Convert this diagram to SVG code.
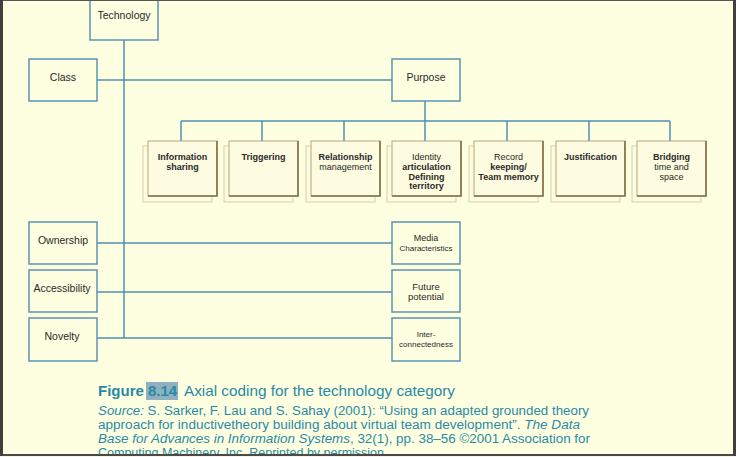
<svg xmlns="http://www.w3.org/2000/svg" width="736" height="457" viewBox="0 0 736 457">
<style>
.bg{fill:#fefee0}
.box{fill:#fefee0;stroke:#5b94b0;stroke-width:1.5}
.conn{stroke:#4f8fb0;stroke-width:1.5;fill:none}
.back{fill:#fdfbe0;stroke:#d9cfa5;stroke-width:1}
.front{fill:#fdfbe0;stroke:#b5a77a;stroke-width:1}
.shade{fill:none;stroke:#7d7048;stroke-width:1.6}
.lbl{font-family:"Liberation Sans",Arial,sans-serif;fill:#2a2a2a;text-anchor:middle}
.n{font-size:10.5px}
.s{font-size:9px}
.b{font-size:9px;font-weight:bold}
.cap{font-family:"Liberation Sans",Arial,sans-serif;fill:#2a8aa6}
</style>
<rect class="bg" x="0" y="0" width="736" height="457"/>

<g id="connectors">
<line class="conn" x1="124" y1="40" x2="124" y2="338"/>
<line class="conn" x1="97" y1="80" x2="392" y2="80"/>
<line class="conn" x1="425" y1="101" x2="425" y2="121"/>
<line class="conn" x1="181" y1="121" x2="670" y2="121"/>
<line class="conn" x1="181" y1="121" x2="181" y2="141"/>
<line class="conn" x1="262" y1="121" x2="262" y2="141"/>
<line class="conn" x1="344" y1="121" x2="344" y2="141"/>
<line class="conn" x1="425" y1="121" x2="425" y2="141"/>
<line class="conn" x1="507" y1="121" x2="507" y2="141"/>
<line class="conn" x1="589" y1="121" x2="589" y2="141"/>
<line class="conn" x1="670" y1="121" x2="670" y2="141"/>
<line class="conn" x1="97" y1="243" x2="392" y2="243"/>
<line class="conn" x1="97" y1="292" x2="392" y2="292"/>
<line class="conn" x1="97" y1="338" x2="392" y2="338"/>
</g>

<g id="technology"><rect class="box" x="90" y="-2" width="68" height="42"/><text class="lbl n" x="124" y="19">Technology</text></g>
<g id="class"><rect class="box" x="29" y="59" width="68" height="42"/><text class="lbl n" x="63" y="81">Class</text></g>
<g id="purpose"><rect class="box" x="392" y="59" width="68" height="42"/><text class="lbl n" x="426" y="81">Purpose</text></g>

<g id="information-sharing"><rect class="back" x="143" y="146" width="69" height="56"/><rect class="front" x="148" y="141" width="69" height="55"/><path class="shade" d="M217 141V196H148"/><text class="lbl b" x="182.5" y="160">Information</text><text class="lbl b" x="182.5" y="170">sharing</text></g>
<g id="triggering"><rect class="back" x="224" y="146" width="69" height="56"/><rect class="front" x="229" y="141" width="69" height="55"/><path class="shade" d="M298 141V196H229"/><text class="lbl b" x="263.5" y="160">Triggering</text></g>
<g id="relationship-management"><rect class="back" x="306" y="146" width="69" height="56"/><rect class="front" x="311" y="141" width="69" height="55"/><path class="shade" d="M380 141V196H311"/><text class="lbl b" x="345.5" y="160">Relationship</text><text class="lbl s" x="345.5" y="170">management</text></g>
<g id="identity"><rect class="back" x="387" y="146" width="69" height="56"/><rect class="front" x="392" y="141" width="69" height="55"/><path class="shade" d="M461 141V196H392"/><text class="lbl s" x="426.5" y="160">Identity</text><text class="lbl b" x="426.5" y="169.5">articulation</text><text class="lbl b" x="426.5" y="179.5">Defining</text><text class="lbl b" x="426.5" y="189">territory</text></g>
<g id="record-keeping"><rect class="back" x="469" y="146" width="69" height="56"/><rect class="front" x="474" y="141" width="69" height="55"/><path class="shade" d="M543 141V196H474"/><text class="lbl s" x="508.5" y="160">Record</text><text class="lbl b" x="508.5" y="169.5">keeping/</text><text class="lbl b" x="508.5" y="179.5">Team memory</text></g>
<g id="justification"><rect class="back" x="551" y="146" width="69" height="56"/><rect class="front" x="556" y="141" width="69" height="55"/><path class="shade" d="M625 141V196H556"/><text class="lbl b" x="590.5" y="160">Justification</text></g>
<g id="bridging"><rect class="back" x="632" y="146" width="69" height="56"/><rect class="front" x="637" y="141" width="69" height="55"/><path class="shade" d="M706 141V196H637"/><text class="lbl b" x="671.5" y="160">Bridging</text><text class="lbl s" x="671.5" y="169.5">time and</text><text class="lbl s" x="671.5" y="179.5">space</text></g>

<g id="ownership"><rect class="box" x="29" y="222" width="68" height="42"/><text class="lbl n" x="63" y="244">Ownership</text></g>
<g id="accessibility"><rect class="box" x="29" y="270" width="68" height="42"/><text class="lbl n" x="62" y="292">Accessibility</text></g>
<g id="novelty"><rect class="box" x="29" y="318" width="68" height="43"/><text class="lbl n" x="62" y="340">Novelty</text></g>
<g id="media-characteristics"><rect class="box" x="392" y="222" width="68" height="42"/><text class="lbl s" x="426" y="241">Media</text><text class="lbl" style="font-size:8px" x="426" y="250.5">Characteristics</text></g>
<g id="future-potential"><rect class="box" x="392" y="270" width="68" height="42"/><text class="lbl" style="font-size:9.5px" x="426" y="290">Future</text><text class="lbl" style="font-size:9.5px" x="426" y="300">potential</text></g>
<g id="interconnectedness"><rect class="box" x="392" y="318" width="68" height="43"/><text class="lbl" style="font-size:8px" x="426" y="337">Inter-</text><text class="lbl" style="font-size:8px" x="426" y="346.5">connectedness</text></g>

<g id="caption">
<rect x="146" y="382" width="32" height="18" fill="#8fb0bf"/>
<text class="cap" x="98" y="396" style="font-size:15px;font-weight:bold">Figure</text>
<text class="cap" x="148" y="396" style="font-size:15px;font-weight:bold">8.14</text>
<text class="cap" x="184" y="396" style="font-size:15px" textLength="271" lengthAdjust="spacingAndGlyphs">Axial coding for the technology category</text>
<text class="cap" x="98" y="415" style="font-size:12.5px" textLength="491" lengthAdjust="spacingAndGlyphs"><tspan font-style="italic">Source:</tspan> S. Sarker, F. Lau and S. Sahay (2001): “Using an adapted grounded theory</text>
<text class="cap" x="98" y="429" style="font-size:12.5px" textLength="482" lengthAdjust="spacingAndGlyphs">approach for inductivetheory building about virtual team development”. <tspan font-style="italic">The Data</tspan></text>
<text class="cap" x="98" y="442.5" style="font-size:12.5px" textLength="492" lengthAdjust="spacingAndGlyphs"><tspan font-style="italic">Base for Advances in Information Systems</tspan>, 32(1), pp. 38–56 ©2001 Association for</text>
<text class="cap" x="98" y="457" style="font-size:12.5px">Computing Machinery, Inc. Reprinted by permission.</text>
</g>

<g id="frame">
<rect x="0" y="455" width="736" height="2" fill="#f4f4ea"/>
<line x1="0" y1="455" x2="736" y2="455" stroke="#4a4a4a" stroke-width="2"/>
<line x1="0" y1="0.5" x2="736" y2="0.5" stroke="#555" stroke-width="1"/>
<line x1="1.5" y1="0" x2="1.5" y2="456" stroke="#3f3f3f" stroke-width="3"/>
<line x1="734.5" y1="0" x2="734.5" y2="456" stroke="#3f3f3f" stroke-width="3"/>
</g>
</svg>
